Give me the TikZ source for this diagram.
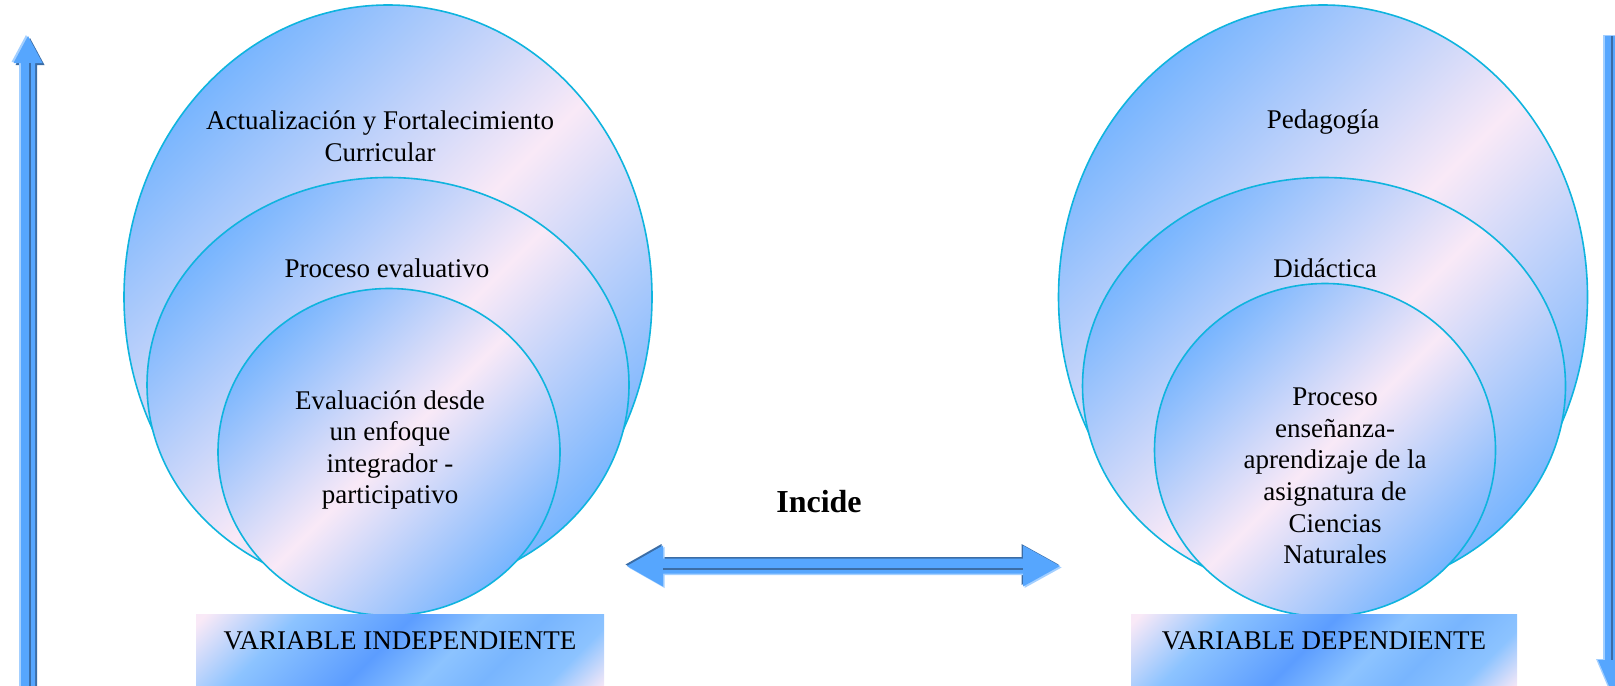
\documentclass[tikz,border=0pt]{standalone}
\usepackage{fontspec}
\setmainfont{Liberation Serif}
\usepackage{xcolor}
\usepackage{tikz}
\usetikzlibrary{shapes.geometric,positioning}

\definecolor{ringblue}{HTML}{78B5FE}
\definecolor{ringpink}{HTML}{F9E9F7}
\definecolor{ringedge}{HTML}{0FB4DE}
\definecolor{boxblue}{HTML}{5C9DFF}
\definecolor{boxlight}{HTML}{8CC3FF}
\definecolor{arrowblue}{HTML}{56A6FE}
\definecolor{arrowdark}{HTML}{3B6DA6}
\definecolor{arrowlight}{HTML}{A3CFFF}

\pgfdeclarehorizontalshading{boxshade}{100bp}{color(0bp)=(ringpink); color(16bp)=(ringpink); color(30bp)=(boxlight); color(47bp)=(boxblue); color(58bp)=(boxlight); color(67bp)=(ringblue); color(77bp)=(boxlight); color(86bp)=(ringpink); color(100bp)=(ringpink)}

\tikzset{
 ring/.style={ellipse,draw=ringedge,line width=0.8pt,inner sep=0pt,
  left color=ringblue,right color=ringblue,middle color=ringpink,shading angle=45},
 txt/.style={align=center,font=\fontsize{13.5}{15.8}\selectfont},
 varbox/.style={rectangle,inner sep=0pt,minimum height=35.5pt,shading=boxshade,
  shading angle=-45,text height=9pt,text depth=9pt,font=\fontsize{13.5}{16}\selectfont},
 vshade/.style={fill=arrowdark,transform canvas={shift={(2,2)}}},
 vlight/.style={fill=arrowlight,transform canvas={shift={(-2,-1)}}},
 hshade/.style={fill=arrowdark,transform canvas={shift={(-1.5,-1.5)}}},
 hlight/.style={fill=arrowlight,transform canvas={shift={(1.5,1.5)}}},
 amain/.style={fill=arrowblue}
}

\begin{document}
\begin{tikzpicture}[x=0.5pt,y=-0.5pt]
 \useasboundingbox (0,0) rectangle (1615,685);
 \clip (0,0) rectangle (1615,685);

 % variable independiente
 \node[ring,minimum width=264pt,minimum height=292pt] (vi1) at (388,297) {};
 \node[ring,minimum width=241pt,minimum height=207.5pt] (vi2) at (388,385) {};
 \node[ring,minimum width=171pt,minimum height=163.5pt] (vi3) at (389,452) {};
 \node[txt] (tvi1) at (380,136) {Actualización y Fortalecimiento\\Curricular};
 \node[txt] (tvi2) at (387,268) {Proceso evaluativo};
 \node[txt] (tvi3) at (390,450) {Evaluación desde\\un enfoque\\integrador -\\participativo};
 \node[varbox,minimum width=204pt] (vi) at (400,649.5) {VARIABLE INDEPENDIENTE};

 % variable dependiente
 \node[ring,minimum width=264.5pt,minimum height=292pt] (vd1) at (1323,297) {};
 \node[ring,minimum width=241.5pt,minimum height=208.5pt] (vd2) at (1324,386) {};
 \node[ring,minimum width=170.5pt,minimum height=166.5pt] (vd3) at (1325,450) {};
 \node[txt] (tvd1) at (1323,122) {Pedagogía};
 \node[txt] (tvd2) at (1325,268) {Didáctica};
 \node[txt] (tvd3) at (1335,476) {Proceso\\enseñanza-\\aprendizaje de la\\asignatura de\\Ciencias\\Naturales};
 \node[varbox,minimum width=193pt] (vd) at (1324,649.5) {VARIABLE DEPENDIENTE};

 % incide
 \node[font=\bfseries\fontsize{16}{19}\selectfont] (inc) at (819,502) {Incide};
 \foreach \sty in {hshade,hlight,amain}
  \fill[\sty] (627,566) -- (663,545.5) -- (663,558.5) -- (1023,558.5) -- (1023,545.5)
   -- (1060,566) -- (1023,586.5) -- (1023,573.5) -- (663,573.5) -- (663,586.5) -- cycle;
 \draw[arrowdark,line width=1pt] (663,568.5) -- (1023,568.5);

 % flechas laterales
 \foreach \sty in {vshade,vlight,amain}{
  \fill[\sty] (28,36) -- (42.5,63) -- (35,63) -- (35,700) -- (21,700) -- (21,63)
   -- (13.5,63) -- cycle;
  \fill[\sty] (1612,693) -- (1626,660) -- (1619,660) -- (1619,36) -- (1605,36)
   -- (1605,660) -- (1598,660) -- cycle;
 }
 \draw[arrowdark,line width=1pt] (30,63) -- (30,700) (1612,36) -- (1612,660);
\end{tikzpicture}
\end{document}
